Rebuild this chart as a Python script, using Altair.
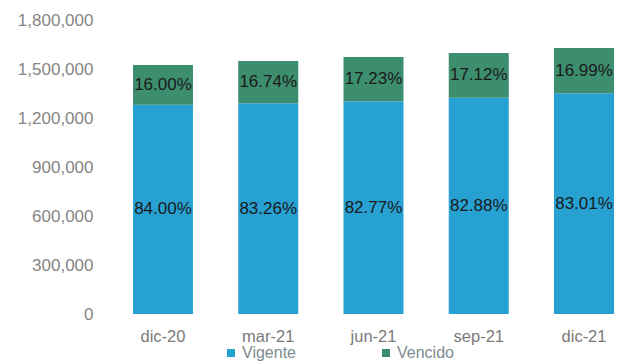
import altair as alt
import pandas as pd

periods = ["dic-20", "mar-21", "jun-21", "sep-21", "dic-21"]
vigente = [1280580, 1289677, 1301972, 1324422, 1352233]
vencido = [243920, 259323, 271028, 273578, 276767]
vigente_pct = ["84.00%", "83.26%", "82.77%", "82.88%", "83.01%"]
vencido_pct = ["16.00%", "16.74%", "17.23%", "17.12%", "16.99%"]
series = ["Vigente", "Vencido"]
colors = ["#27A0D2", "#3D8D6F"]
y_ticks = [0, 300000, 600000, 900000, 1200000, 1500000, 1800000]

rows = []
for i, p in enumerate(periods):
    rows.append({"period": p, "serie": "Vigente", "ord": 0, "value": vigente[i], "label": vigente_pct[i]})
    rows.append({"period": p, "serie": "Vencido", "ord": 1, "value": vencido[i], "label": vencido_pct[i]})
df = pd.DataFrame(rows)

FONT = "Liberation Sans"

base = alt.Chart(df).transform_stack(
    stack="value", groupby=["period"], as_=["y0", "y1"], sort=[alt.SortField("ord", "ascending")]
).transform_calculate(mid="(datum.y0 + datum.y1) / 2")

x_scale = alt.Scale(paddingInner=0.43, paddingOuter=0.1425, align=1, round=False)
x_axis = alt.Axis(labelAngle=0, domain=False, ticks=False, labelPadding=14,
                  labelFont=FONT, labelFontSize=16.5, labelColor="#7a7a7a")
y_scale = alt.Scale(domain=[0, 1800000], nice=False)
y_axis = alt.Axis(values=y_ticks, format=",.0f", grid=False, domain=False, ticks=False,
                  labelPadding=10, labelFont=FONT, labelFontSize=17, labelColor="#858585")

bars = base.mark_bar().encode(
    x=alt.X("period:N", sort=periods, title=None, scale=x_scale, axis=x_axis),
    y=alt.Y("y0:Q", title=None, scale=y_scale, axis=y_axis),
    y2="y1:Q",
    color=alt.Color("serie:N", scale=alt.Scale(domain=series, range=colors),
                    legend=alt.Legend(title=None, orient="none", legendX=120, legendY=325,
                                      direction="horizontal", symbolType="square", symbolSize=64,
                                      labelFont=FONT, labelFontSize=16, labelColor="#7d8a90",
                                      labelOffset=3, columnPadding=82, symbolStrokeWidth=0)),
)

text = base.mark_text(font=FONT, fontSize=17, color="#1a1a1a", baseline="middle").encode(
    x=alt.X("period:N", sort=periods, title=None, scale=x_scale, axis=x_axis),
    y=alt.Y("mid:Q", title=None, scale=y_scale, axis=y_axis),
    text="label:N",
)

chart = alt.layer(bars, text).properties(
    width=511, height=294,
    autosize=alt.AutoSizeParams(type="none"),
    padding={"left": 95, "top": 12, "right": 0, "bottom": 50},
).configure_view(stroke=None)

chart.save("out.html", embed_options={"renderer": "svg", "actions": False})
